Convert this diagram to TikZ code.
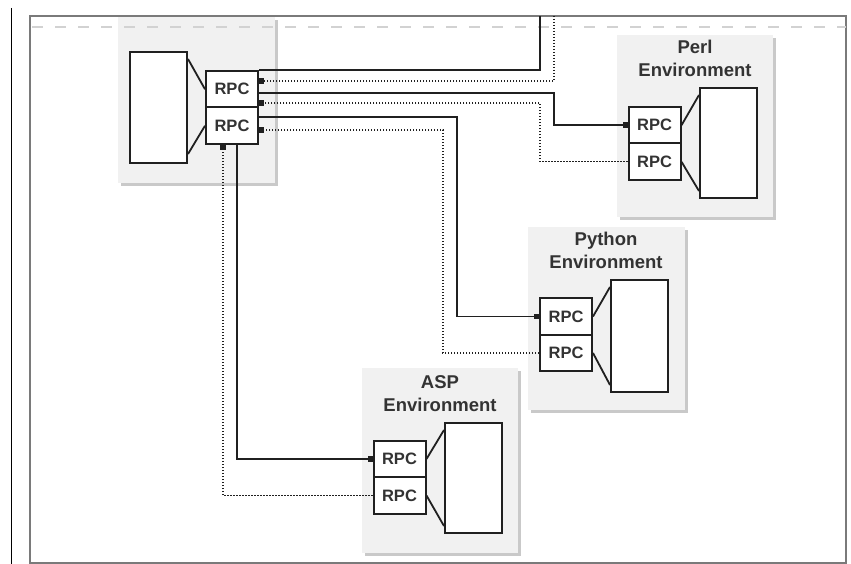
\documentclass[tikz,border=0pt]{standalone}
\usepackage{fontspec}
\setmainfont{Liberation Sans}
\usetikzlibrary{arrows.meta,calc}
\definecolor{ln}{HTML}{202020}
\definecolor{txt}{HTML}{333333}
\definecolor{boxgray}{HTML}{F1F1F1}
\definecolor{shadowgray}{HTML}{C9C9C9}
\definecolor{framegray}{HTML}{7A7A7A}
\definecolor{dashgray}{HTML}{D2D2D2}
\begin{document}
\begin{tikzpicture}[x=1pt,y=-1pt,
  envbg/.style={fill=boxgray,draw=none},
  envshadow/.style={fill=shadowgray,draw=none},
  rpcbox/.style={draw=ln,line width=2pt,fill=white,minimum width=52pt,minimum height=36.5pt,inner sep=0pt,
    font=\bfseries\fontsize{16.5}{16.5}\selectfont,text=txt},
  appbox/.style={draw=ln,line width=2pt,fill=white,minimum width=57pt,inner sep=0pt},
  title/.style={align=center,font=\bfseries\fontsize{18.5}{23}\selectfont,text=txt,inner sep=0pt},
  trap/.style={draw=ln,line width=1.8pt},
  conn/.style={draw=ln,line width=1.7pt},
  dconn/.style={draw=ln,line width=1.5pt,dash pattern=on 1.4pt off 1.6pt},
  tip/.style={-{Square[length=5pt,width=5.5pt]}}
]
\useasboundingbox (0,0) rectangle (851,564);
\fill[white] (0,0) rectangle (851,564);
% page frame
\draw[black,line width=1pt] (11,8) -- (11,564);
\draw[framegray,line width=1.5pt] (30,16) rectangle (846,563);

% environment backgrounds with shadows
\fill[envshadow] (121,20) rectangle (278,186);
\fill[envbg] (118,17) rectangle (275,183);
\fill[envshadow] (620,38) rectangle (776,220);
\fill[envbg] (617,35) rectangle (773,217);
\fill[envshadow] (531,230) rectangle (688,413);
\fill[envbg] (528,227) rectangle (685,410);
\fill[envshadow] (365,371) rectangle (521,556);
\fill[envbg] (362,368) rectangle (518,553);

% dashed boundary
\draw[dashgray,line width=2.5pt,dash pattern=on 11pt off 12pt] (32,27) -- (846,27);

% titles
\node[title] (tperl) at (695,58.5) {Perl\\Environment};
\node[title] (tpy) at (606,250) {Python\\Environment};
\node[title] (tasp) at (440,393.5) {ASP\\Environment};

% host
\node[appbox,minimum height=111pt] (wh) at (158.5,107.5) {};
\node[rpcbox] (m1) at (232,89.25) {RPC};
\node[rpcbox] (m2) at (232,125.75) {RPC};
\draw[trap] ($(wh.north east)+(0,8)$) -- (m1.west);
\draw[trap] ($(wh.south east)+(0,-10)$) -- (m2.west);

% Perl
\node[appbox,minimum height=110pt] (wp) at (728.5,143) {};
\node[rpcbox] (p1) at (654.5,125.25) {RPC};
\node[rpcbox] (p2) at (654.5,161.75) {RPC};
\draw[trap] (p1.east) -- ($(wp.north west)+(0,8)$);
\draw[trap] (p2.east) -- ($(wp.south west)+(0,-8)$);

% Python
\node[appbox,minimum height=112pt] (wy) at (639.5,336) {};
\node[rpcbox] (y1) at (566,316.5) {RPC};
\node[rpcbox] (y2) at (566,353) {RPC};
\draw[trap] (y1.east) -- ($(wy.north west)+(0,8)$);
\draw[trap] (y2.east) -- ($(wy.south west)+(0,-8)$);

% ASP
\node[appbox,minimum height=110pt] (wa) at (473.5,478) {};
\node[rpcbox] (a1) at (399.5,459) {RPC};
\node[rpcbox] (a2) at (399.5,495.5) {RPC};
\draw[trap] (a1.east) -- ($(wa.north west)+(0,8)$);
\draw[trap] (a2.east) -- ($(wa.south west)+(0,-8)$);

% helper coordinates
\coordinate (topA) at (540,16);
\coordinate (topB) at (554,16);
\coordinate (h70) at (0,70);
\coordinate (h81) at (0,81);
\coordinate (h93) at (0,93);
\coordinate (h103) at (0,103);
\coordinate (h117) at (0,117);
\coordinate (h130) at (0,130);
\coordinate (v223) at (223,0);
\coordinate (v237) at (237,0);

% connectors
\draw[conn] (m1.east |- h70) -- (540,70) -- (topA);
\draw[dconn,tip] (topB) -- (554,81) -- (m1.east |- h81);
\draw[conn,tip] (m1.east |- h93) -- (554,93) -- (554,125.25) -- (p1.west);
\draw[dconn,tip] (p2.west) -- (540,161.75) -- (540,103) -- (m1.east |- h103);
\draw[conn,tip] (m2.east |- h117) -- (457,117) -- (457,316.5) -- (y1.west);
\draw[dconn,tip] (y2.west) -- (443,353) -- (443,130) -- (m2.east |- h130);
\draw[conn,tip] (m2.south -| v237) -- (237,459) -- (a1.west);
\draw[dconn,tip] (a2.west) -- (223,495.5) -- (m2.south -| v223);
\end{tikzpicture}
\end{document}
